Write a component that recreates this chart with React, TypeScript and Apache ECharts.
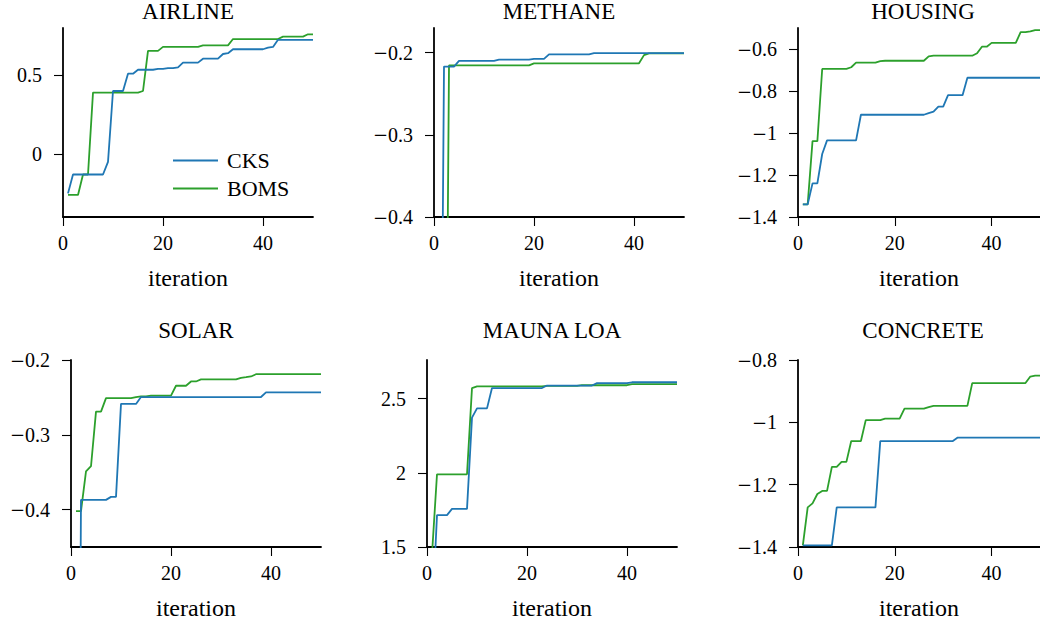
import React, { useEffect, useRef } from "react";
import * as echarts from "echarts";

// ---------- data (best value found so far, iterations 1..50) ----------
const iterations: number[] = Array.from({ length: 50 }, (_, i) => i + 1);

const airlineCKS = [
  -0.25, -0.13, -0.13, -0.13, -0.13, -0.13, -0.13, -0.13, -0.05, 0.40,
  0.40, 0.40, 0.51, 0.51, 0.535, 0.535, 0.535, 0.535, 0.54, 0.54,
  0.545, 0.545, 0.55, 0.58, 0.58, 0.58, 0.58, 0.605, 0.605, 0.605,
  0.605, 0.635, 0.64, 0.665, 0.665, 0.665, 0.665, 0.665, 0.665, 0.665,
  0.675, 0.68, 0.725, 0.725, 0.725, 0.725, 0.725, 0.725, 0.725, 0.725,
];
const airlineBOMS = [
  -0.26, -0.26, -0.26, -0.13, -0.13, 0.39, 0.39, 0.39, 0.39, 0.39,
  0.39, 0.39, 0.39, 0.39, 0.39, 0.40, 0.655, 0.655, 0.655, 0.68,
  0.68, 0.68, 0.68, 0.68, 0.68, 0.68, 0.68, 0.69, 0.69, 0.69,
  0.69, 0.69, 0.69, 0.73, 0.73, 0.73, 0.73, 0.73, 0.73, 0.73,
  0.73, 0.73, 0.73, 0.745, 0.745, 0.745, 0.745, 0.745, 0.76, 0.76,
];
const methaneCKS = [
  -1.0, -0.217, -0.217, -0.217, -0.21, -0.21, -0.21, -0.21, -0.21, -0.21,
  -0.21, -0.21, -0.2085, -0.2085, -0.2085, -0.2085, -0.2085, -0.2085, -0.2085, -0.2075,
  -0.2075, -0.2075, -0.202, -0.202, -0.202, -0.202, -0.202, -0.202, -0.202, -0.202,
  -0.202, -0.2005, -0.2005, -0.2005, -0.2005, -0.2005, -0.2005, -0.2005, -0.2005, -0.2005,
  -0.2005, -0.2005, -0.2005, -0.2005, -0.2005, -0.2005, -0.2005, -0.2005, -0.2005, -0.2005,
];
const methaneBOMS = [
  -1.2, -1.0, -0.2155, -0.2155, -0.2155, -0.2155, -0.2155, -0.2155, -0.2155, -0.2155,
  -0.2155, -0.2155, -0.2155, -0.2155, -0.2155, -0.2155, -0.2155, -0.2155, -0.2155, -0.213,
  -0.213, -0.213, -0.213, -0.213, -0.213, -0.213, -0.213, -0.213, -0.213, -0.213,
  -0.213, -0.213, -0.213, -0.213, -0.213, -0.213, -0.213, -0.213, -0.213, -0.213,
  -0.213, -0.203, -0.2008, -0.2008, -0.2008, -0.2008, -0.2008, -0.2008, -0.2008, -0.2008,
];
const housingCKS = [
  -1.34, -1.34, -1.24, -1.24, -1.10, -1.035, -1.035, -1.035, -1.035, -1.035,
  -1.035, -1.035, -0.913, -0.913, -0.913, -0.913, -0.913, -0.913, -0.913, -0.913,
  -0.913, -0.913, -0.913, -0.913, -0.913, -0.913, -0.905, -0.898, -0.874, -0.874,
  -0.82, -0.82, -0.82, -0.82, -0.737, -0.737, -0.737, -0.737, -0.737, -0.737,
  -0.737, -0.737, -0.737, -0.737, -0.737, -0.737, -0.737, -0.737, -0.737, -0.737,
];
const housingBOMS = [
  -1.34, -1.34, -1.039, -1.039, -0.695, -0.695, -0.695, -0.695, -0.695, -0.695,
  -0.687, -0.665, -0.665, -0.665, -0.665, -0.665, -0.658, -0.656, -0.656, -0.656,
  -0.656, -0.656, -0.656, -0.656, -0.656, -0.656, -0.635, -0.632, -0.632, -0.632,
  -0.632, -0.632, -0.632, -0.632, -0.632, -0.632, -0.62, -0.589, -0.589, -0.571,
  -0.571, -0.571, -0.571, -0.571, -0.571, -0.52, -0.52, -0.516, -0.51, -0.51,
];
const solarCKS = [
  -1.5, -0.387, -0.387, -0.387, -0.387, -0.387, -0.387, -0.383, -0.383, -0.2587,
  -0.2587, -0.2587, -0.2587, -0.2495, -0.2495, -0.2495, -0.2495, -0.2495, -0.2495, -0.2495,
  -0.2495, -0.2495, -0.2495, -0.2495, -0.2495, -0.2495, -0.2495, -0.2495, -0.2495, -0.2495,
  -0.2495, -0.2495, -0.2495, -0.2495, -0.2495, -0.2495, -0.2495, -0.2495, -0.2433, -0.2433,
  -0.2433, -0.2433, -0.2433, -0.2433, -0.2433, -0.2433, -0.2433, -0.2433, -0.2433, -0.2433,
];
const solarBOMS = [
  -0.402, -0.402, -0.349, -0.342, -0.269, -0.269, -0.251, -0.251, -0.251, -0.251,
  -0.251, -0.251, -0.2495, -0.2486, -0.2486, -0.2477, -0.2477, -0.2477, -0.2477, -0.2477,
  -0.2344, -0.2344, -0.2344, -0.2287, -0.2287, -0.226, -0.226, -0.226, -0.226, -0.226,
  -0.226, -0.226, -0.226, -0.2238, -0.223, -0.222, -0.219, -0.219, -0.219, -0.219,
  -0.219, -0.219, -0.219, -0.219, -0.219, -0.219, -0.219, -0.219, -0.219, -0.219,
];
const maunaCKS = [
  1.0, 1.715, 1.715, 1.715, 1.757, 1.757, 1.757, 1.757, 2.372, 2.434,
  2.434, 2.434, 2.571, 2.571, 2.571, 2.571, 2.571, 2.571, 2.571, 2.571,
  2.571, 2.571, 2.571, 2.588, 2.588, 2.588, 2.588, 2.588, 2.588, 2.588,
  2.588, 2.588, 2.588, 2.604, 2.604, 2.604, 2.604, 2.604, 2.604, 2.604,
  2.61, 2.61, 2.61, 2.61, 2.61, 2.61, 2.61, 2.61, 2.61, 2.61,
];
const maunaBOMS = [
  1.45, 1.99, 1.99, 1.99, 1.99, 1.99, 1.99, 1.99, 2.571, 2.582,
  2.582, 2.582, 2.582, 2.582, 2.582, 2.582, 2.582, 2.582, 2.582, 2.582,
  2.582, 2.582, 2.582, 2.585, 2.585, 2.585, 2.585, 2.585, 2.585, 2.585,
  2.59, 2.59, 2.59, 2.59, 2.59, 2.59, 2.59, 2.59, 2.59, 2.59,
  2.597, 2.597, 2.597, 2.597, 2.597, 2.597, 2.597, 2.597, 2.597, 2.597,
];
const concreteCKS = [
  -1.395, -1.395, -1.395, -1.395, -1.395, -1.395, -1.395, -1.273, -1.273, -1.273,
  -1.273, -1.273, -1.273, -1.273, -1.273, -1.273, -1.06, -1.06, -1.06, -1.06,
  -1.06, -1.06, -1.06, -1.06, -1.06, -1.06, -1.06, -1.06, -1.06, -1.06,
  -1.06, -1.06, -1.049, -1.049, -1.049, -1.049, -1.049, -1.049, -1.049, -1.049,
  -1.049, -1.049, -1.049, -1.049, -1.049, -1.049, -1.049, -1.049, -1.049, -1.049,
];
const concreteBOMS = [
  -1.395, -1.273, -1.26, -1.23, -1.22, -1.22, -1.143, -1.143, -1.127, -1.127,
  -1.06, -1.06, -1.06, -0.993, -0.993, -0.993, -0.993, -0.988, -0.988, -0.988,
  -0.988, -0.956, -0.956, -0.956, -0.956, -0.956, -0.951, -0.947, -0.947, -0.947,
  -0.947, -0.947, -0.947, -0.947, -0.947, -0.874, -0.874, -0.874, -0.874, -0.874,
  -0.874, -0.874, -0.874, -0.874, -0.874, -0.874, -0.874, -0.853, -0.85, -0.85,
];

const panelTitles = ["AIRLINE", "METHANE", "HOUSING", "SOLAR", "MAUNA LOA", "CONCRETE"];
const seriesNames = ["CKS", "BOMS"];
const xTicks = [0, 20, 40];
const xRange = [0, 50];
const yTicks: number[][] = [
  [0, 0.5],
  [-0.4, -0.3, -0.2],
  [-1.4, -1.2, -1, -0.8, -0.6],
  [-0.4, -0.3, -0.2],
  [1.5, 2, 2.5],
  [-1.4, -1.2, -1, -0.8],
];
const yRanges: number[][] = [
  [-0.4, 0.8],
  [-0.4, -0.17],
  [-1.4, -0.5],
  [-0.45, -0.2],
  [1.5, 2.76],
  [-1.4, -0.8],
];
const panelData: number[][][] = [
  [airlineCKS, airlineBOMS],
  [methaneCKS, methaneBOMS],
  [housingCKS, housingBOMS],
  [solarCKS, solarBOMS],
  [maunaCKS, maunaBOMS],
  [concreteCKS, concreteBOMS],
];

// ---------- layout / style ----------
const COLORS = ["#1f77b4", "#2ca02c"];
const FONT = "Liberation Serif";
const PANELS = [
  { left: 63, top: 28, height: 189 },
  { left: 434, top: 28, height: 189 },
  { left: 798, top: 28, height: 189 },
  { left: 71, top: 360, height: 188 },
  { left: 427, top: 360, height: 188 },
  { left: 798, top: 360, height: 188 },
];
const PANEL_W = 250;
const TITLE_Y = [11.7, 11.7, 11.7, 330, 330, 330];

function fmt(v: number): string {
  const s = String(+Math.abs(v).toFixed(3));
  return v < -1e-9 ? "{m|\u2212}" + s : s;
}

export default function App() {
  const ref = useRef<HTMLDivElement>(null);

  useEffect(() => {
    if (!ref.current) return;
    const chart = echarts.init(ref.current, undefined, { renderer: "svg" });

    const grid = PANELS.map((p) => ({
      left: p.left,
      top: p.top,
      width: PANEL_W,
      height: p.height,
      containLabel: false,
    }));

    const axisLineStyle = { color: "#000", width: 1.8 };
    const axisTickBase = { show: true, length: 9, lineStyle: { color: "#000", width: 1.1 } };
    const labelBase = {
      fontFamily: FONT,
      fontSize: 20,
      color: "#000",
      rich: { m: { fontFamily: "DejaVu Serif", fontSize: 18, color: "#000" } },
    };

    const xAxis = PANELS.map((_, i) => ({
      type: "value",
      gridIndex: i,
      position: "bottom",
      min: xRange[0],
      max: xRange[1],
      interval: 20,
      name: "iteration",
      nameLocation: "middle",
      nameGap: 49,
      nameTextStyle: { fontFamily: FONT, fontSize: 24, color: "#000" },
      axisLine: { show: true, onZero: false, lineStyle: axisLineStyle },
      axisTick: { ...axisTickBase, customValues: xTicks },
      axisLabel: {
        ...labelBase,
        customValues: xTicks,
        margin: 16,
        formatter: (v: number) => fmt(v),
      },
      splitLine: { show: false },
    }));

    const yAxis = PANELS.map((_, i) => ({
      type: "value",
      gridIndex: i,
      position: "left",
      min: yRanges[i][0],
      max: yRanges[i][1],
      axisLine: { show: true, onZero: false, lineStyle: axisLineStyle },
      axisTick: { ...axisTickBase, customValues: yTicks[i] },
      axisLabel: {
        ...labelBase,
        customValues: yTicks[i],
        margin: 21,
        formatter: (v: number) => fmt(v),
      },
      splitLine: { show: false },
    }));

    const series: any[] = [];
    panelData.forEach((pair, pi) => {
      pair.forEach((vals, si) => {
        series.push({
          type: "line",
          name: seriesNames[si],
          xAxisIndex: pi,
          yAxisIndex: pi,
          data: vals.map((v, k) => [iterations[k], v]),
          symbol: "none",
          showSymbol: false,
          clip: true,
          color: COLORS[si],
          lineStyle: { color: COLORS[si], width: 1.8 },
          z: si === 0 ? 3 : 2,
        });
      });
    });

    const graphic = panelTitles.map((t, i) => ({
      type: "text",
      x: PANELS[i].left + PANEL_W / 2,
      y: TITLE_Y[i],
      style: {
        text: t,
        fill: "#000",
        fontFamily: FONT,
        fontSize: 23,
        textAlign: "center",
        textVerticalAlign: "middle",
        align: "center",
        verticalAlign: "middle",
      },
    }));

    chart.setOption({
      animation: false,
      backgroundColor: "#fff",
      grid,
      xAxis,
      yAxis,
      series,
      graphic,
      legend: {
        data: seriesNames,
        orient: "vertical",
        left: 173,
        top: 149,
        icon: "rect",
        itemWidth: 45,
        itemHeight: 2,
        itemGap: 5,
        padding: 0,
        textStyle: { fontFamily: FONT, fontSize: 22, color: "#000", lineHeight: 23, padding: [0, 0, 0, 4] },
      },
    } as any);

    return () => chart.dispose();
  }, []);

  return (
    <div
      ref={ref}
      style={{ position: "fixed", left: 0, top: 0, width: 1040, height: 621, background: "#fff" }}
    />
  );
}
